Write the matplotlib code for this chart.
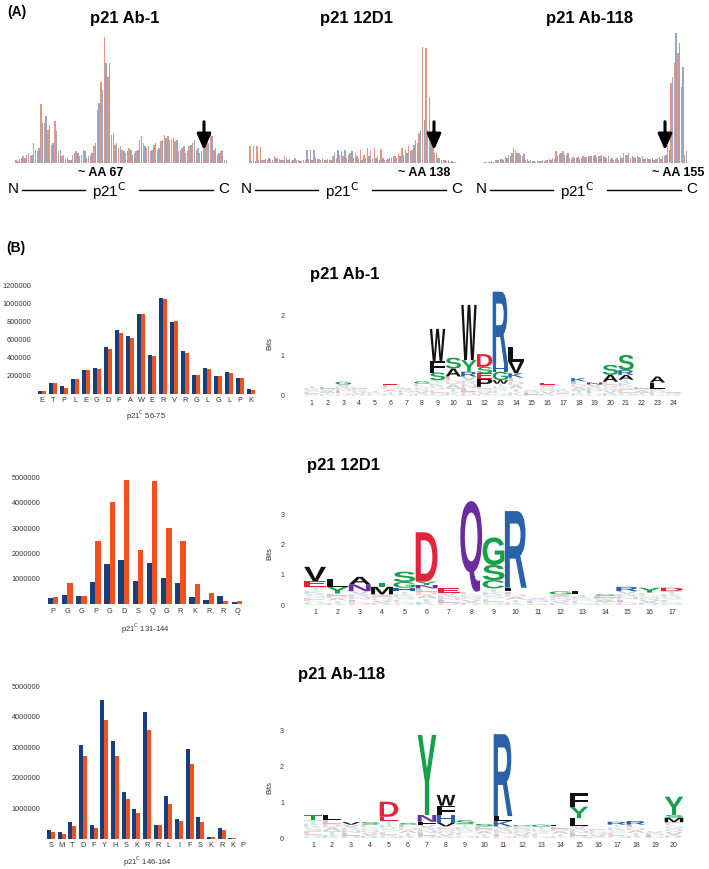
import numpy as np
import matplotlib
matplotlib.use('Agg')
import matplotlib.pyplot as plt
from matplotlib.textpath import TextPath
from matplotlib.patches import PathPatch, FancyArrowPatch
from matplotlib.font_manager import FontProperties
from matplotlib.lines import Line2D
import matplotlib.transforms as mtrans

plt.rcParams['font.family'] = ['Liberation Sans', 'DejaVu Sans']

## (A) spectra, intensity per peptide position (red / blue replicate)
ab1_red = [8, 12, 20, 25, 22, 60, 35, 178, 120, 100, 55, 125, 35, 20, 12, 8, 25, 35, 20, 40,
           15, 25, 50, 160, 245, 380, 260, 85, 55, 45, 40, 30, 45, 25, 35, 70, 60, 45, 35, 55,
           40, 65, 85, 80, 70, 65, 35, 45, 30, 50, 60, 40, 30, 45, 70, 95, 40, 25, 35, 8]
ab1_blue = [5, 15, 15, 30, 25, 40, 45, 120, 140, 115, 60, 95, 40, 25, 15, 10, 30, 30, 25, 35,
            20, 30, 60, 180, 220, 300, 300, 90, 60, 50, 35, 35, 40, 30, 40, 80, 50, 50, 40, 60,
            45, 70, 75, 70, 75, 70, 40, 50, 35, 55, 70, 45, 35, 50, 60, 80, 45, 30, 40, 10]
d12_red = [50, 50, 52, 48, 8, 10, 12, 20, 15, 10, 20, 8, 6, 15, 8, 5, 10, 12, 10, 15,
           12, 15, 10, 8, 20, 15, 25, 20, 15, 30, 15, 20, 40, 25, 45, 35, 45, 20, 42, 10,
           12, 15, 20, 30, 45, 40, 50, 40, 70, 90, 350, 345, 200, 100, 30, 15, 8, 5, 3, 2]
d12_blue = [5, 5, 8, 10, 12, 15, 10, 15, 12, 8, 15, 12, 8, 10, 5, 8, 38, 40, 38, 12,
            10, 8, 12, 10, 30, 38, 35, 38, 25, 35, 30, 12, 10, 15, 20, 12, 15, 10, 15, 8,
            15, 20, 15, 20, 25, 30, 35, 55, 60, 100, 130, 100, 60, 30, 15, 10, 10, 8, 6, 4]
ab118_red = [2, 3, 5, 8, 10, 12, 20, 25, 30, 40, 30, 20, 10, 6, 5, 4, 6, 8, 10, 12,
             15, 35, 28, 35, 25, 15, 18, 15, 12, 20, 18, 22, 20, 18, 22, 20, 15, 12, 10, 15,
             20, 30, 25, 15, 18, 20, 15, 12, 15, 12, 10, 15, 12, 20, 50, 240, 300, 330, 230, 25]
ab118_blue = [3, 2, 4, 10, 12, 8, 15, 20, 45, 30, 25, 28, 12, 8, 6, 5, 5, 6, 8, 10,
              12, 20, 30, 25, 30, 12, 15, 18, 15, 18, 22, 20, 25, 22, 25, 18, 20, 15, 12, 10,
              15, 25, 30, 20, 15, 18, 20, 15, 12, 15, 12, 18, 20, 25, 40, 260, 390, 360, 290, 35]
spec_titles = ['p21 Ab-1', 'p21 12D1', 'p21 Ab-118']
spec_marks = ['~ AA 67', '~ AA 138', '~ AA 155']

## (B) peptide intensities
cats1 = list('ETPLEGDFAWERVRGLGLPK')
blue1 = [30000, 121000, 84000, 157000, 267000, 289000, 524000, 707000, 637000, 883000,
         432000, 1066000, 802000, 476000, 205000, 286000, 195000, 240000, 170000, 55000]
red1 = [29000, 117000, 66000, 157000, 260000, 278000, 498000, 670000, 615000, 883000,
        414000, 1055000, 810000, 450000, 201000, 275000, 195000, 228000, 175000, 44000]
cats2 = list('PGGPGDSQGRKRRQ')
blue2 = [236000, 354000, 328000, 866000, 1587000, 1744000, 918000, 1613000, 1036000, 852000,
         275000, 157000, 315000, 92000]
red2 = [302000, 826000, 328000, 2505000, 4039000, 4892000, 2151000, 4866000, 3003000, 2505000,
        800000, 459000, 131000, 131000]
cats3 = list('SMTDFYHSKRRLIFSKRKP')
blue3 = [283000, 218000, 545000, 3084000, 447000, 4534000, 3193000, 1537000, 992000, 4163000,
         469000, 1417000, 665000, 2932000, 708000, 65000, 371000, 33000, 0]
red3 = [240000, 153000, 436000, 2725000, 349000, 3891000, 2703000, 1319000, 850000, 3575000,
        469000, 1144000, 600000, 2441000, 556000, 55000, 294000, 33000, 0]
xlab = ['56-75', '131-144', '146-164']

## sequence logos: background height, then letters stacked on top (bottom -> top)
ab1_base = [0.24, 0.22, 0.28, 0.22, 0.12, 0.26, 0.2, 0.3, 0.39, 0.48, 0.48, 0.22, 0.3, 0.45,
            0.15, 0.28, 0.18, 0.36, 0.28, 0.35, 0.4, 0.22, 0.18, 0.1]
ab1_letters = ['', '', 'G', '', '', 'E', '', 'G', 'SFW', 'AS', 'RYW', 'PESD', 'WGHR', 'KVL',
               '', 'E', '', 'K', 'N', 'AS', 'ARS', '', 'LA', '']
ab1_heights = [[], [], [0.07], [], [], [0.04], [], [0.06], [0.19, 0.29, 0.8], [0.2, 0.27],
               [0.12, 0.29, 1.38], [0.21, 0.13, 0.16, 0.32], [0.09, 0.21, 0.17, 1.83],
               [0.11, 0.29, 0.38], [], [0.04], [], [0.08], [0.05], [0.17, 0.25],
               [0.12, 0.12, 0.38], [], [0.15, 0.15], []]
d12_base = [0.6, 0.38, 0.46, 0.35, 0.45, 0.55, 0.4, 0.44, 0.55, 0.45, 0.25, 0.35, 0.35, 0.3,
            0.46, 0.41, 0.46]
d12_letters = ['EV', 'YL', 'NA', 'MT', 'HGS', 'NYD', 'E', 'Q', 'CSG', 'LR', '', 'G', 'L', 'S',
               'R', 'Y', 'D']
d12_heights = [[0.19, 0.47], [0.22, 0.25], [0.22, 0.25], [0.25, 0.14], [0.12, 0.19, 0.34],
               [0.11, 0.11, 1.63], [0.15], [2.99], [0.27, 0.5, 0.91], [0.12, 2.53], [], [0.1],
               [0.1], [0.05], [0.14], [0.16], [0.11]]
ab118_base = [0.51, 0.51, 0.38, 0.38, 0.48, 0.38, 0.37, 0.33, 0.4, 0.33, 0.33, 0.33, 0.32,
              0.33, 0.35, 0.25, 0.38, 0.38, 0.2, 0.45]
ab118_letters = ['T', 'L', 'V', 'S', 'ED', 'S', 'FNY', 'VHFW', 'S', 'S', 'KLR', 'G', 'G', 'L',
                 'LYF', '', 'R', 'R', '', 'MSY']
ab118_heights = [[0.14], [0.14], [0.07], [0.07], [0.12, 0.42], [0.05], [0.09, 0.19, 2.23],
                 [0.1, 0.22, 0.26, 0.3], [0.1], [0.07], [0.15, 0.14, 2.28], [0.04], [0.06],
                 [0.05], [0.21, 0.32, 0.37], [], [0.08], [0.1], [], [0.12, 0.08, 0.51]]
logo_titles = ['p21 Ab-1', 'p21 12D1', 'p21 Ab-118']

W, H = 709, 869
fig = plt.figure(figsize=(W / 100, H / 100), dpi=100)


def add_ax(x0, y0, x1, y1):
    return fig.add_axes([x0 / W, 1 - y1 / H, (x1 - x0) / W, (y1 - y0) / H])


def ftext(x, y, s, **kw):
    fig.text(x / W, 1 - y / H, s, **kw)


def fline(x0, x1, y):
    fig.add_artist(Line2D([x0 / W, x1 / W], [1 - y / H, 1 - y / H], transform=fig.transFigure,
                          color='k', lw=1.0))


def farrow(x, y0, y1):
    fig.add_artist(FancyArrowPatch((x / W, 1 - y0 / H), (x / W, 1 - y1 / H), transform=fig.transFigure,
                                   arrowstyle='-|>,head_width=0.35,head_length=0.8',
                                   mutation_scale=12, lw=2.2, color='k'))


# ---------------- (A)
ftext(7, 12, '(A)', fontsize=10, fontweight='bold', va='center')
spec_boxes = [(14, 228), (248, 457), (483, 688)]
spec_data = [(ab1_red, ab1_blue), (d12_red, d12_blue), (ab118_red, ab118_blue)]
mark_x = [101, 424, 678]
arrow_x = [204, 434, 665]
for k in range(3):
    x0, x1 = spec_boxes[k]
    ax = add_ax(x0, 30, x1, 163)
    red, blue = spec_data[k]
    n = len(red)
    pos = np.arange(n)
    ax.bar(pos, red, 0.4, color='#d97d66', alpha=0.8, lw=0)
    ax.bar(pos + 0.5, blue, 0.4, color='#7487b5', alpha=0.75, lw=0)
    ax.axhline(0, color='#bbbbbb', lw=0.6)
    ax.set_xlim(-0.6, n)
    ax.set_ylim(0, 400)
    ax.axis('off')
    ftext((x0 + x1) / 2 + 4, 18, spec_titles[k], fontsize=12, fontweight='bold', ha='center', va='center')
    ftext(mark_x[k], 173, spec_marks[k], fontsize=9, fontweight='bold', ha='center', va='center')
    farrow(arrow_x[k], 119, 153)

    # N ---- p21C ---- C
    nx = [8, 241, 476][k]
    ftext(nx, 189, 'N', fontsize=11, va='center')
    fline(nx + 14, nx + 77, 190)
    ftext(nx + 84, 191, 'p21$^{\\mathrm{C}}$', fontsize=11, va='center')
    fline(nx + 131, nx + 205, 190)
    ftext(nx + 210, 189, 'C', fontsize=11, va='center')

# ---------------- (B) bar charts
ftext(6, 248, '(B)', fontsize=10, fontweight='bold', va='center')
bar_sets = [(cats1, blue1, red1, (35.4, 257.6), (277, 393.5), 1300000, [200000, 400000, 600000, 800000, 1000000, 1200000], 416),
            (cats2, blue2, red2, (44.5, 245.5), (472, 604.4), 5200000, [1000000, 2000000, 3000000, 4000000, 5000000], 629),
            (cats3, blue3, red3, (44.6, 249.4), (680, 839), 5200000, [1000000, 2000000, 3000000, 4000000, 5000000], 862)]
for k, (cats, blue, red, (x0, x1), (y0, y1), ymax, ticks, ly) in enumerate(bar_sets):
    ax = add_ax(x0, y0, x1, y1)
    x = np.arange(len(cats))
    ax.bar(x - 0.19, blue, 0.38, color='#173f7e', lw=0)
    ax.bar(x + 0.19, red, 0.38, color='#f2501f', lw=0)
    ax.set_xlim(-0.6, len(cats) - 0.4)
    ax.set_ylim(0, ymax)
    ax.set_xticks(x)
    ax.set_xticklabels(cats)
    ax.set_yticks(ticks)
    ax.set_yticklabels([str(t) for t in ticks])
    for s in ax.spines.values():
        s.set_visible(False)
    ax.tick_params(length=0, labelsize=5.3, colors='#333333', pad=3)
    ax.tick_params(axis='x', pad=2.5)
    ftext((x0 + x1) / 2, ly, 'p21$^{\\mathrm{C}}$ ' + xlab[k], fontsize=5.5, color='#333333', ha='center', va='center')

# ---------------- sequence logos
fp = FontProperties(family='Liberation Sans', weight='bold')
aa_colors = {}
for c in 'GSTYC':
    aa_colors[c] = '#16a04a'
for c in 'NQ':
    aa_colors[c] = '#6a2c9e'
for c in 'KRH':
    aa_colors[c] = '#2a62a8'
for c in 'DE':
    aa_colors[c] = '#e2253a'
for c in 'AVLIPWFM':
    aa_colors[c] = '#111111'
clutter = 'GESKTADLNRVQ'


def draw_letter(ax, ch, x, y, w, h, alpha=1.0):
    if h <= 0:
        return
    tp = TextPath((0, 0), ch, size=1, prop=fp)
    bb = tp.get_extents()
    t = mtrans.Affine2D().translate(-bb.x0, -bb.y0).scale(w / bb.width, h / bb.height).translate(x - w / 2, y)
    ax.add_patch(PathPatch(t.transform_path(tp), fc=aa_colors.get(ch, '#111111'), ec='none', alpha=alpha))


logo_sets = [(ab1_base, ab1_letters, ab1_heights, (304, 681), (287.7, 395.7), 2.7, [0, 1, 2], 275, 310, 343),
             (d12_base, d12_letters, d12_heights, (304, 683), (499, 605), 3.5, [0, 1, 2, 3], 466, 307, 553),
             (ab118_base, ab118_letters, ab118_heights, (303.5, 683.5), (727, 838.3), 3.1, [0, 1, 2, 3], 675, 298, 787)]
for k, (base, letters, heights, (x0, x1), (y0, y1), ymax, ticks, ty, tx, by) in enumerate(logo_sets):
    ax = add_ax(x0, y0, x1, y1)
    n = len(base)
    for i in range(n):
        p = i + 1
        # background: faint small letters
        nb = 5
        for j in range(nb):
            ch = clutter[(i * 3 + j) % len(clutter)]
            draw_letter(ax, ch, p, base[i] * j / nb, 0.96, base[i] / nb * 0.95, alpha=0.22)
        y = base[i]
        for ch, h in zip(letters[i], heights[i]):
            draw_letter(ax, ch, p, y, 0.98, h)
            y += h
    ax.set_xlim(0.5, n + 0.5)
    ax.set_ylim(0, ymax)
    ax.set_xticks(np.arange(1, n + 1))
    ax.set_yticks(ticks)
    for s in ax.spines.values():
        s.set_visible(False)
    ax.tick_params(length=0, labelsize=5, colors='#333333')
    ax.tick_params(axis='y', pad=14)
    ax.tick_params(axis='x', pad=3)
    ftext(270, by, 'Bits', fontsize=5.5, rotation=90, ha='center', va='center', color='#333333')
    ftext(tx, ty, logo_titles[k], fontsize=12, fontweight='bold', va='center')

fig.savefig('out.png', dpi=100)
